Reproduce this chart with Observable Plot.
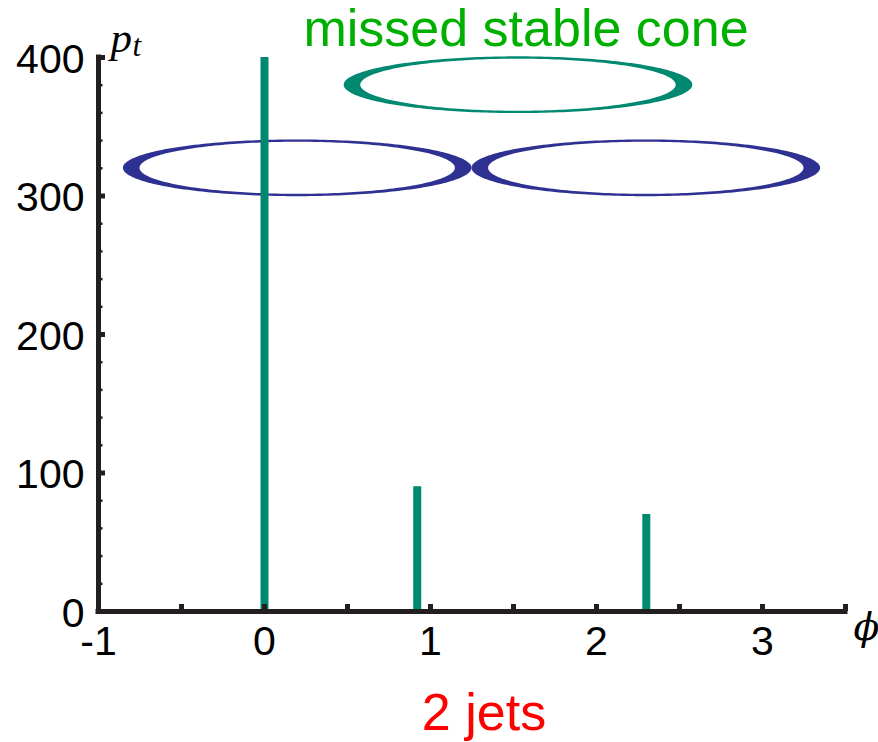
<!DOCTYPE html>
<html>
<head>
<meta charset="utf-8">
<script src="https://cdn.jsdelivr.net/npm/d3@7"></script>
<script src="https://cdn.jsdelivr.net/npm/@observablehq/plot@0.6"></script>
<style>
  body { margin: 0; background: #fff; }
  #wrap { position: relative; width: 878px; height: 742px; }
  .ttl { position: absolute; font-family: 'Liberation Sans', Arial, sans-serif; font-size: 52px; line-height: 50px; white-space: nowrap; transform: translateX(-50%); }
</style>
</head>
<body>
<div id="wrap">
  <div id="chart"></div>
  <div class="ttl" id="title" style="left:526px; top:3px; color:#00b000;">missed stable cone</div>
  <div class="ttl" id="caption" style="left:484px; top:687px; color:#ff0000;">2 jets</div>
</div>
<script>
// ---- data ----
const particlePhi = [0, 0.92, 2.3];
const particlePt = [400, 90, 70];

const coneKind = ["jet", "jet", "missed"];
const conePhi = [0.2, 2.3, 1.53];
const conePt = [320, 320, 380];

const xTicks = [-1, -0.5, 0, 0.5, 1, 1.5, 2, 2.5, 3, 3.5];
const xLabelTicks = [-1, 0, 1, 2, 3];
const xTickLabels = ["-1", "0", "1", "2", "3"];
const yMajorTicks = [0, 100, 200, 300, 400];
const yTickLabels = ["0", "100", "200", "300", "400"];
const yMinorTicks = [20, 40, 60, 80, 120, 140, 160, 180, 220, 240, 260, 280, 320, 340, 360, 380];

// ---- styling ----
const teal = "#008970";
const blue = "#2e3192";
const axisColor = "#231f20";
const kindColor = {jet: blue, missed: teal};

// cone ring geometry (outer and inner half-axes, in data units)
const outerA = 1.05, outerB = 20.5;
const innerA = 0.95, innerB = 18.8;

function ellipsePts(cx, cy, a, b, id) {
  return d3.range(121).map(i => {
    const t = Math.PI * i / 120;
    return {id, x: cx + a * Math.cos(t), y1: cy - b * Math.sin(t), y2: cy + b * Math.sin(t)};
  });
}
const outerRings = conePhi.flatMap((c, i) => ellipsePts(c, conePt[i], outerA, outerB, i));
const innerRings = conePhi.flatMap((c, i) => ellipsePts(c, conePt[i], innerA, innerB, i));

const particles = particlePhi.map((p, i) => ({phi: p, pt: particlePt[i]}));

const plot = Plot.plot({
  width: 878,
  height: 742,
  marginLeft: 98,
  marginRight: 33,
  marginTop: 57,
  marginBottom: 131,
  x: {domain: [-1, 3.5], label: null},
  y: {domain: [0, 400], label: null},
  style: {
    fontFamily: "'Liberation Sans', Arial, sans-serif",
    fontSize: "41px",
    background: "white",
    color: "black"
  },
  marks: [
    Plot.areaY(outerRings, {x: "x", y1: "y1", y2: "y2", z: "id", fill: d => kindColor[coneKind[d.id]]}),
    Plot.areaY(innerRings, {x: "x", y1: "y1", y2: "y2", z: "id", fill: "white"}),
    Plot.ruleX(particles, {x: "phi", y1: 0, y2: "pt", stroke: teal, strokeWidth: 8}),
    Plot.ruleY([0], {x1: -1, x2: 3.5, stroke: axisColor, strokeWidth: 5, strokeLinecap: "square"}),
    Plot.ruleX([-1], {y1: 0, y2: 400, stroke: axisColor, strokeWidth: 5, strokeLinecap: "square"}),
    Plot.axisY(yMinorTicks, {tickSize: -4.5, strokeWidth: 2.5, stroke: axisColor, fill: "none", label: null}),
    Plot.axisY(yMajorTicks, {tickSize: -7, strokeWidth: 5, stroke: axisColor, fill: "none", label: null}),
    Plot.axisY(yMajorTicks, {tickSize: 0, tickPadding: 14, dy: 2, fill: "black", label: null,
      tickFormat: d => yTickLabels[yMajorTicks.indexOf(d)]}),
    Plot.axisX(xTicks, {tickSize: -7, strokeWidth: 5, stroke: axisColor, fill: "none", label: null}),
    Plot.axisX(xLabelTicks, {tickSize: 0, tickPadding: 14, fill: "black", label: null,
      tickFormat: d => xTickLabels[xLabelTicks.indexOf(d)]}),
    Plot.text(["p"], {frameAnchor: "top-left", text: d => d, dx: 12, dy: -6, lineAnchor: "bottom", textAnchor: "start",
      fontFamily: "'Liberation Serif', 'DejaVu Serif', serif", fontStyle: "italic", fontSize: 43, fill: "black"}),
    Plot.text(["t"], {frameAnchor: "top-left", text: d => d, dx: 34, dy: -2, lineAnchor: "bottom", textAnchor: "start",
      fontFamily: "'Liberation Serif', 'DejaVu Serif', serif", fontStyle: "italic", fontSize: 31, fill: "black"}),
    Plot.text(["\u03d5"], {frameAnchor: "bottom-right", text: d => d, dx: 21, dy: 28, lineAnchor: "bottom", textAnchor: "middle",
      fontFamily: "'DejaVu Serif', 'Liberation Serif', serif", fontStyle: "italic", fontSize: 38, fill: "black"})
  ]
});
document.getElementById("chart").appendChild(plot);
</script>
</body>
</html>
